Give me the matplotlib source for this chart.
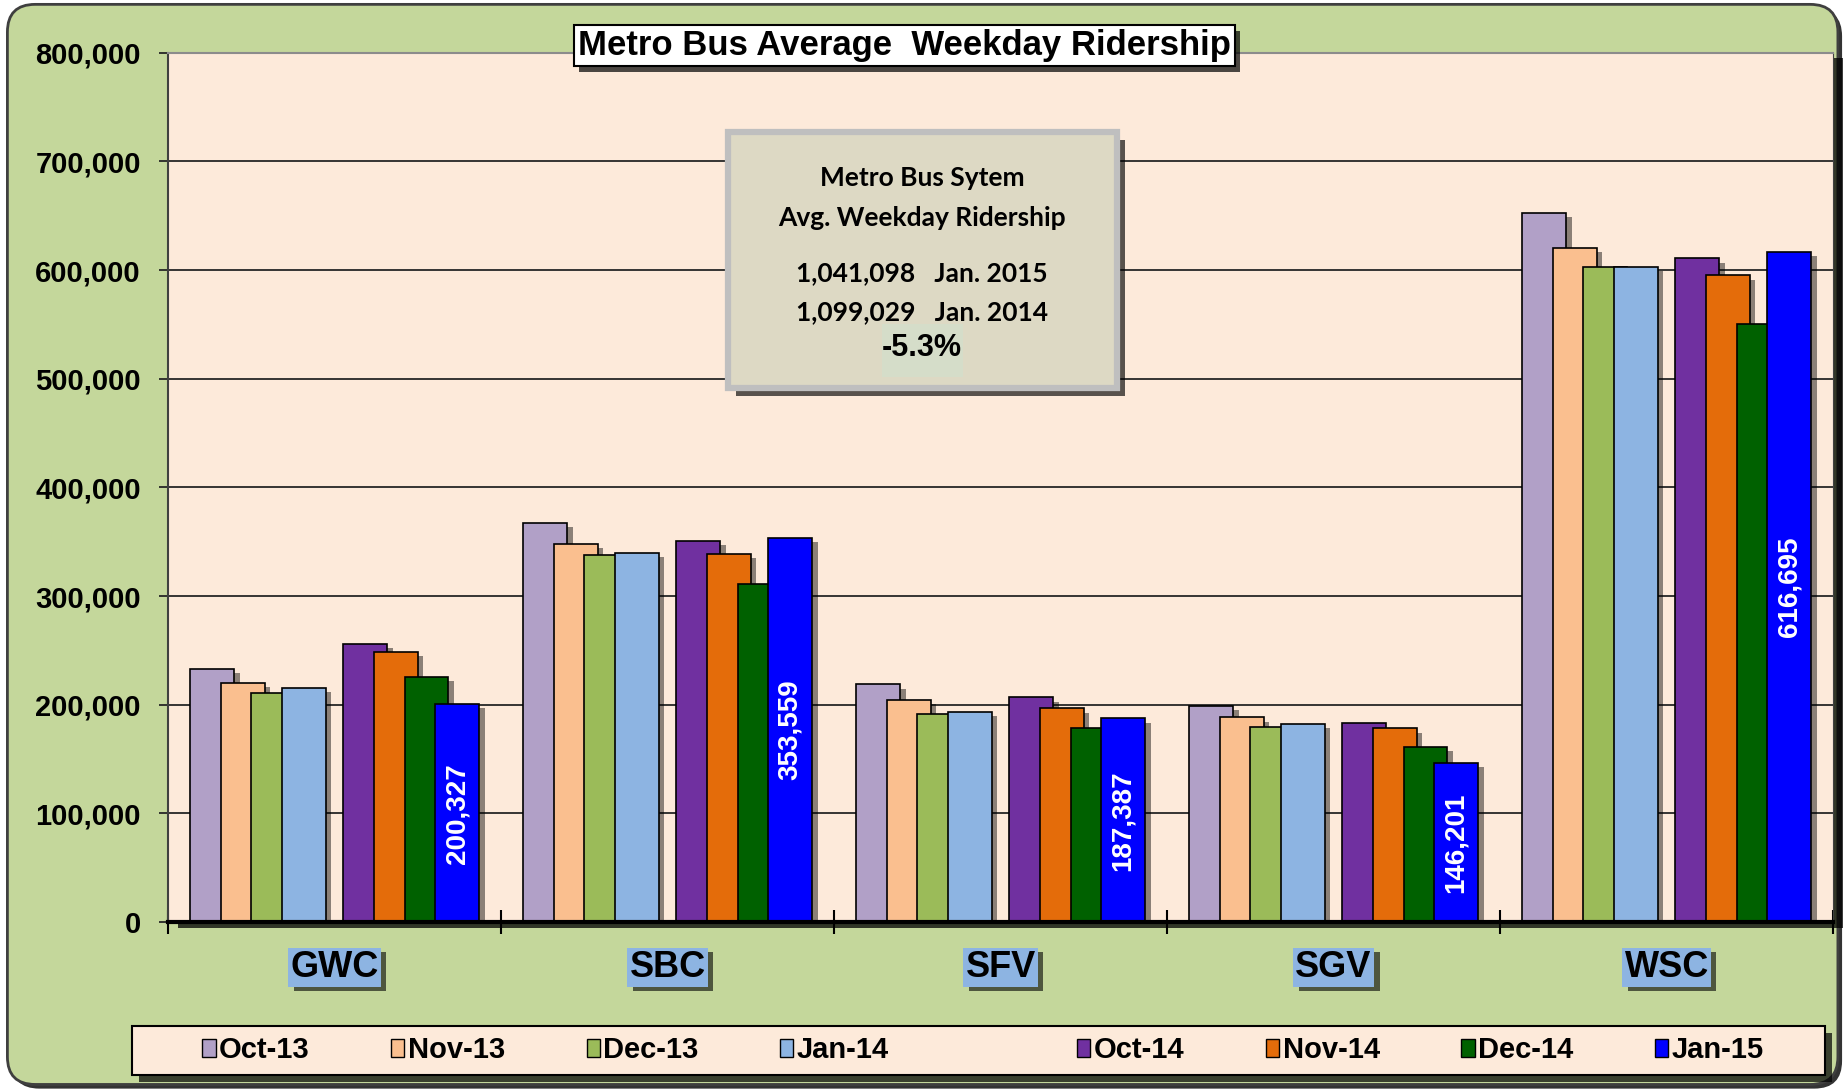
import numpy as np
import matplotlib
matplotlib.use('Agg')
import matplotlib.pyplot as plt
import matplotlib.patheffects as pe
from matplotlib.patches import FancyBboxPatch, Rectangle
from matplotlib.ticker import FuncFormatter

plt.rcParams['font.family'] = ['Liberation Sans', 'DejaVu Sans']
plt.rcParams['font.weight'] = 'bold'

# data
regions = ['GWC', 'SBC', 'SFV', 'SGV', 'WSC']
months = ['Oct-13', 'Nov-13', 'Dec-13', 'Jan-14', 'Oct-14', 'Nov-14', 'Dec-14', 'Jan-15']
oct_13 = [233000, 367000, 218700, 198700, 652400]
nov_13 = [220000, 348000, 204000, 188300, 620000]
dec_13 = [211000, 337800, 191000, 179700, 603000]
jan_14 = [215500, 339400, 193000, 182400, 603000]
oct_14 = [256000, 350700, 206700, 182800, 610700]
nov_14 = [248500, 339000, 196600, 178200, 595000]
dec_14 = [225500, 310600, 178200, 161000, 550700]
jan_15 = [200327, 353559, 187387, 146201, 616695]
series = [oct_13, nov_13, dec_13, jan_14, oct_14, nov_14, dec_14, jan_15]
colors = ['#B1A0C7', '#FABF8F', '#9BBB59', '#8DB4E2',
          '#7030A0', '#E46C0A', '#006100', '#0000FF']
# slot 4 is an empty series in the original workbook (gap between years)
slots = [0, 1, 2, 3, 5, 6, 7, 8]

box_lines = ['Metro Bus Sytem', 'Avg. Weekday Ridership',
             '1,041,098   Jan. 2015', '1,099,029   Jan. 2014']
box_change = '-5.3%'


def shadow(dx=4, dy=-3, alpha=0.5):
    return [pe.SimplePatchShadow(offset=(dx, dy), shadow_rgbFace='black', alpha=alpha), pe.Normal()]


fig = plt.figure(figsize=(18.49, 10.91), dpi=100, facecolor='white')

# chart area with rounded corners
bg = FancyBboxPatch((0.004, 0.006), 0.99, 0.99, boxstyle='round,pad=0,rounding_size=0.015',
                    mutation_aspect=18.49 / 10.91, transform=fig.transFigure,
                    facecolor='#C4D79B', edgecolor='#3F3F3F', lw=2, zorder=-1)
bg.set_path_effects(shadow(3, -3, 0.8))
fig.add_artist(bg)

ax = fig.add_axes([0.0909, 0.1549, 0.9005, 0.7968])
ax.set_facecolor('#FDEADA')
ax.patch.set_path_effects(shadow(7, -4, 0.75))

x = np.arange(len(regions))
step = 0.092
width = 0.132
containers = []
for vals, col, s in zip(series, colors, slots):
    bars = ax.bar(x + (s - 4) * step, vals, width, color=col, edgecolor='black', lw=1.2, zorder=2)
    for b in bars:
        b.set_path_effects(shadow(4, -3, 0.45))
    containers.append(bars)

ax.bar_label(containers[-1], labels=[f'{v:,}' for v in jan_15], label_type='center',
             rotation=90, color='white', fontsize=20, fontweight='bold', zorder=3)

ax.set_xlim(-0.5, 4.5)
ax.set_ylim(0, 800000)
ax.set_yticks(range(0, 800001, 100000))
ax.yaxis.set_major_formatter(FuncFormatter(lambda v, p: f'{v:,.0f}'))
ax.grid(axis='y', color='#262626', lw=1.3)
ax.set_axisbelow(True)

ax.set_xticks(np.arange(-0.5, 5, 1))
ax.set_xticklabels([])
ax.set_xticks(x, minor=True)
ax.set_xticklabels(regions, minor=True)
ax.tick_params(axis='x', which='major', direction='inout', length=17, width=1.5, color='black')
ax.tick_params(axis='x', which='minor', length=0, pad=20, labelsize=26)
ax.tick_params(axis='y', length=6.5, width=1.3, pad=13, labelsize=21, color='#262626')
for lab in ax.get_xticklabels(minor=True):
    lab.set_bbox(dict(boxstyle='square,pad=0.06', fc='#8DB4E2', ec='none'))
    lab.get_bbox_patch().set_path_effects(shadow(4, -3, 0.6))

ax.spines['top'].set_color('#8C8C8C')
ax.spines['top'].set_linewidth(1.5)
ax.spines['left'].set_color('#404040')
ax.spines['left'].set_linewidth(1.5)
ax.spines['right'].set_color('#404040')
ax.spines['bottom'].set_color('black')
ax.spines['bottom'].set_linewidth(3)
ax.spines['bottom'].set_path_effects(shadow(4, -5, 0.6))

# title
title = fig.text(0.489, 0.958, 'Metro Bus Average  Weekday Ridership', ha='center', va='center',
                 fontsize=25, fontweight='bold', zorder=6,
                 bbox=dict(boxstyle='square,pad=0.12', fc='white', ec='black', lw=1.5))
title.get_bbox_patch().set_path_effects(shadow(4, -4, 0.7))

# summary box
sbox = Rectangle((0.3937, 0.6444), 0.2104, 0.2346, transform=fig.transFigure,
                 fc='#DDD9C4', ec='#BFBFBF', lw=4.5, zorder=5)
sbox.set_path_effects(shadow(6, -6, 0.65))
fig.add_artist(sbox)
hl = Rectangle((0.4770, 0.6544), 0.0438, 0.0486, transform=fig.transFigure,
               fc='#D5DDC9', ec='none', zorder=5.5)
fig.add_artist(hl)
for txt, yy in zip(box_lines, [0.8368, 0.8002, 0.7498, 0.7140]):
    fig.text(0.4987, yy, txt, ha='center', va='center', fontsize=19,
             family=['Lato', 'DejaVu Sans'], fontweight='bold', zorder=6)
fig.text(0.4987, 0.6810, box_change, ha='center', va='center', fontsize=22,
         fontweight='bold', zorder=6)

# legend
lbox = Rectangle((0.0714, 0.0147), 0.9156, 0.0449, transform=fig.transFigure,
                 fc='#FDEADA', ec='black', lw=1.5, zorder=5)
lbox.set_path_effects(shadow(5, -5, 0.7))
fig.add_artist(lbox)
handles = [Rectangle((0, 0), 1, 1, fc=c, ec='black', lw=1) for c in colors]
labels = list(months)
handles.insert(4, Rectangle((0, 0), 1, 1, fc='none', ec='none'))
labels.insert(4, ' ')
leg = fig.legend(handles, labels, loc='center', bbox_to_anchor=(0.5317, 0.0372), ncol=9,
                 frameon=False, fontsize=21, handlelength=0.45, handleheight=0.55,
                 handletextpad=0.12, columnspacing=2.8)
leg.set_zorder(7)

fig.savefig('out.png', dpi=100, facecolor=fig.get_facecolor())
